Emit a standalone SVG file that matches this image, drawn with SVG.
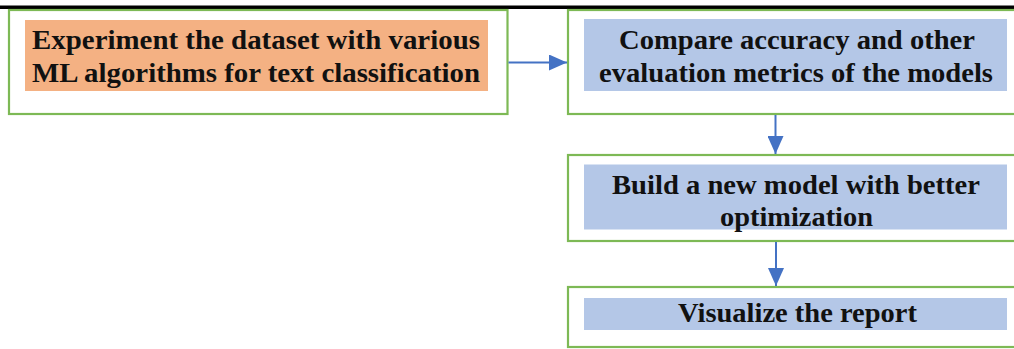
<svg xmlns="http://www.w3.org/2000/svg" width="1014" height="349" viewBox="0 0 1014 349">
<style>
.frame{fill:#ffffff;stroke:#7DB955;stroke-width:2.2}
.orange{fill:#F4B183}
.blue{fill:#B4C7E7}
.t{font-family:"Liberation Serif","DejaVu Serif","Times New Roman",serif;font-weight:700;font-size:27px;fill:#111111}
.conn{stroke:#4472C4;stroke-width:2;fill:none}
</style>
<defs>
<marker id="ah" markerWidth="18" markerHeight="16" refX="18" refY="8" orient="auto" markerUnits="userSpaceOnUse">
<path d="M0,0 L18,8 L0,16 Z" fill="#4472C4"/>
</marker>
</defs>
<rect x="0" y="0" width="1014" height="349" fill="#ffffff"/>
<rect x="0" y="5.5" width="1014" height="3.5" fill="#000000"/>
<g id="node-experiment">
<rect class="frame" x="9" y="10" width="498.5" height="104"/>
<rect class="orange" x="25" y="20" width="463" height="71"/>
<text class="t" x="32" y="48.5" textLength="448" lengthAdjust="spacingAndGlyphs">Experiment the dataset with various</text>
<text class="t" x="32" y="81.5" textLength="448" lengthAdjust="spacingAndGlyphs">ML algorithms for text classification</text>
</g>
<g id="node-compare">
<rect class="frame" x="568" y="10" width="470" height="104"/>
<rect class="blue" x="584" y="19" width="423" height="72"/>
<text class="t" x="619" y="48.5" textLength="356" lengthAdjust="spacingAndGlyphs">Compare accuracy and other</text>
<text class="t" x="599" y="81.5" textLength="394" lengthAdjust="spacingAndGlyphs">evaluation metrics of the models</text>
</g>
<g id="node-build">
<rect class="frame" x="568" y="155" width="470" height="86"/>
<rect class="blue" x="584" y="164.5" width="423" height="65"/>
<text class="t" x="612" y="193.5" textLength="368" lengthAdjust="spacingAndGlyphs">Build a new model with better</text>
<text class="t" x="720" y="226" textLength="153" lengthAdjust="spacingAndGlyphs">optimization</text>
</g>
<g id="node-visualize">
<rect class="frame" x="568" y="287" width="470" height="60"/>
<rect class="blue" x="584" y="298" width="423" height="32"/>
<text class="t" x="678" y="322" textLength="239" lengthAdjust="spacingAndGlyphs">Visualize the report</text>
</g>
<g id="connectors">
<line class="conn" x1="508.5" y1="62.5" x2="567" y2="62.5" marker-end="url(#ah)"/>
<line class="conn" x1="775.5" y1="115" x2="775.5" y2="154" marker-end="url(#ah)"/>
<line class="conn" x1="776" y1="242" x2="776" y2="286" marker-end="url(#ah)"/>
</g>
</svg>
